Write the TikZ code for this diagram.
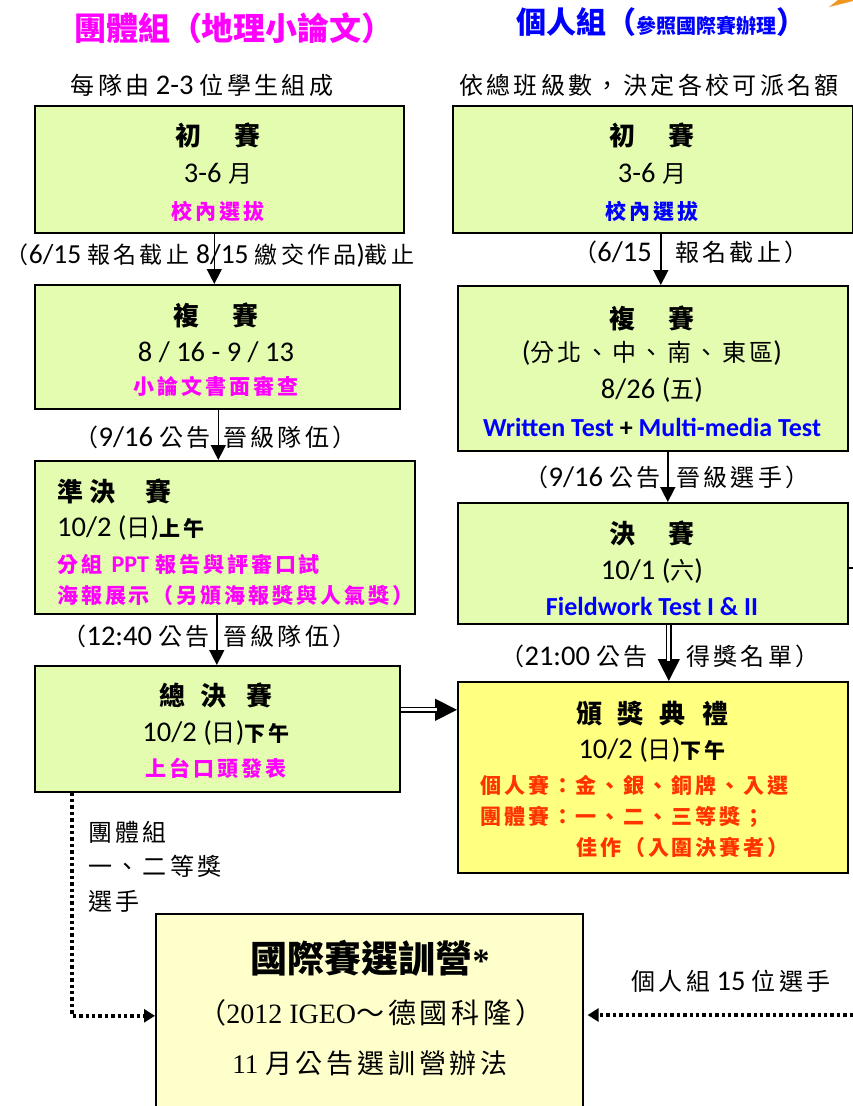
\documentclass[tikz,border=0pt]{standalone}
\usepackage{fontspec}
\usetikzlibrary{arrows.meta}
\setmainfont{Carlito}
\newfontfamily\cj{Noto Sans CJK TC}[LetterSpace=14]
\newfontfamily\cjn{Noto Sans CJK TC}
\newfontfamily\tms{Liberation Serif}
\definecolor{boxgreen}{RGB}{228,252,176}
\definecolor{awardyellow}{RGB}{255,255,128}
\definecolor{campyellow}{RGB}{255,255,204}
\definecolor{mag}{RGB}{255,0,255}
\definecolor{blu}{RGB}{0,0,255}
\definecolor{redo}{RGB}{255,51,0}
\definecolor{orng}{RGB}{240,150,30}
\newcommand\fsz[1]{\fontsize{#1}{#1}\selectfont}
\newcommand\zh[1]{{\cj\fsz{24}#1}}
\newcommand\zhs[1]{{\cj\fsz{23}#1}}
\newcommand\zhb[1]{{\cj\bfseries\fsz{21}#1}}
\newcommand\hdg[1]{{\cjn\bfseries\fsz{26}#1}}
\begin{document}
\begin{tikzpicture}[x=1pt,y=-1pt,
  gbox/.style={draw, line width=1.6pt, fill=boxgreen, inner sep=0, anchor=north west},
  ybox/.style={gbox, fill=awardyellow},
  cbox/.style={gbox, fill=campyellow},
  t/.style={inner sep=0, font=\fsz{28.5}},
  tl/.style={t, anchor=west},
  tr/.style={t, anchor=east},
  arr/.style={line width=1.5pt, -{Triangle[width=15pt,length=15pt]}},
  dblarr/.style={line width=1pt, -{Triangle[width=22pt,length=22pt]}},
  dbl/.style={double, double distance=3pt, line width=1.5pt},
  dotarr/.style={line width=3.6pt, dash pattern=on 3.4pt off 3pt, -{Triangle[width=13pt,length=11pt]}}
]
\useasboundingbox[fill=white] (0,0) rectangle (853,1106);

% headers
\node[t] (h1) at (234,28) {\color{mag}\cjn\bfseries\fsz{32}團體組（地理小論文）};
\node[tl] (h2) at (516,22) {\color{blu}\cjn\bfseries{\fsz{30}個人組（}{\fsz{20}參照國際賽辦理}{\fsz{30}）}};
\node[t] (s1) at (202,85) {\zh{每隊由} 2-3 \zh{位學生組成}};
\node[t] (s2) at (649,85) {\zh{依總班級數，決定各校可派名額}};
\fill[orng] (829,7) -- (853,1) -- (853,0) -- (838,0) -- cycle;

% left column
\node[gbox, minimum width=369, minimum height=127] (L1) at (34,105) {};
\node[t] (L1a) at (218,135) {\hdg{初\hspace{34pt}賽}};
\node[t] (L1b) at (218,174) {3-6 \zh{月}};
\node[t] (L1c) at (218,211) {\color{mag}\zhb{校內選拔}};

\node[gbox, minimum width=365, minimum height=124] (L2) at (34,284) {};
\node[t] (L2a) at (216,315) {\hdg{複\hspace{34pt}賽}};
\node[t] (L2b) at (216,352) {8 / 16 - 9 / 13};
\node[t] (L2c) at (216,386) {\color{mag}\zhb{小論文書面審查}};

\node[gbox, minimum width=380, minimum height=153] (L3) at (34,460) {};
\node[tl] (L3a) at (57,491) {\hdg{準\hspace{6pt}決\hspace{30pt}賽}};
\node[tl] (L3b) at (57,528) {10/2 (\zh{日})\zhb{上午}};
\node[tl] (L3c) at (57,564) {\color{mag}\zhb{分組} \textbf{\fsz{24}PPT} \zhb{報告與評審口試}};
\node[tl] (L3d) at (57,596) {\color{mag}\zhb{海報展示（另頒海報獎與人氣獎）}};

\node[gbox, minimum width=365, minimum height=126] (L4) at (34,665) {};
\node[t] (L4a) at (216,695) {\hdg{總\hspace{16pt}決\hspace{20pt}賽}};
\node[t] (L4b) at (216,733) {10/2 (\zh{日})\zhb{下午}};
\node[t] (L4c) at (216,768) {\color{mag}\zhb{上台口頭發表}};

% left connectors
\draw[arr] ([xshift=-5pt]L1.south) -- ([xshift=-5pt]L1.south |- L2.north);
\node[t] (L1l) at (210,255) {\fsz{27.5}\zhs{（}6/15 \zhs{報名截止}\hspace{7pt}8/15 \zhs{繳交作品}){\zhs{截止}}};
\draw[arr] ([xshift=1pt]L2.south) -- ([xshift=1pt]L2.south |- L3.north);
\node[tr] (L2l) at (211,437) {\zh{（}9/16 \zh{公告}};
\node[tl] (L2r) at (223,437) {\zh{晉級隊伍）}};
\draw[arr] ([xshift=-8pt]L3.south) -- ([xshift=-8pt]L3.south |- L4.north);
\node[tr] (L3l) at (210,636) {\zh{（}12:40 \zh{公告}};
\node[tl] (L3r) at (223,636) {\zh{晉級隊伍）}};

% right column
\node[gbox, minimum width=400, minimum height=127] (R1) at (452,105) {};
\node[t] (R1a) at (652,135) {\hdg{初\hspace{34pt}賽}};
\node[t] (R1b) at (652,174) {3-6 \zh{月}};
\node[t] (R1c) at (652,211) {\color{blu}\zhb{校內選拔}};

\node[gbox, minimum width=390, minimum height=165] (R2) at (457,285) {};
\node[t] (R2a) at (652,318) {\hdg{複\hspace{34pt}賽}};
\node[t] (R2b) at (652,353) {(\zh{分北、中、南、東區})};
\node[t] (R2c) at (652,390) {8/26 (\zh{五})};
\node[t] (R2d) at (652,427) {\fsz{26}\bfseries\color{blu}Written Test \color{black}+ \color{blu}Multi-media Test};

\node[gbox, minimum width=390, minimum height=121] (R3) at (457,502) {};
\node[t] (R3a) at (652,533) {\hdg{決\hspace{34pt}賽}};
\node[t] (R3b) at (652,571) {10/1 (\zh{六})};
\node[t] (R3c) at (652,606) {\fsz{26}\bfseries\color{blu}Fieldwork Test I \& II};

\node[ybox, minimum width=390, minimum height=191] (R4) at (457,681) {};
\node[t] (R4a) at (652,714) {\hdg{頒\hspace{16pt}獎\hspace{16pt}典\hspace{16pt}禮}};
\node[t] (R4b) at (652,750) {10/2 (\zh{日})\zhb{下午}};
\node[tl] (R4c) at (480,785) {\color{redo}\zhb{個人賽：金、銀、銅牌、入選}};
\node[tl] (R4d) at (480,817) {\color{redo}\zhb{團體賽：一、二、三等獎；}};
\node[tl] (R4e) at (576,847) {\color{redo}\zhb{佳作（入圍決賽者）}};

% right connectors
\draw[arr] ([xshift=8pt]R1.south) -- ([xshift=8pt]R1.south |- R2.north);
\node[tr] (R1l) at (652,252) {\zh{（}6/15};
\node[tl] (R1r) at (675,252) {\zh{報名截止）}};
\draw[arr] ([xshift=15pt]R2.south) -- ([xshift=15pt]R2.south |- R3.north);
\node[tr] (R2l) at (661,477) {\zh{（}9/16 \zh{公告}};
\node[tl] (R2r) at (676,477) {\zh{晉級選手）}};
\draw[dblarr] ([xshift=16pt]R3.south) -- ([xshift=16pt]R3.south |- R4.north);
\draw[dbl] ([xshift=16pt]R3.south) -- ([xshift=16pt,yshift=20pt]R3.south |- R4.north);
\node[tr] (R3l) at (648,656) {\zh{（}21:00 \zh{公告}};
\node[tl] (R3r) at (686,656) {\zh{得獎名單）}};
\coordinate (rx) at (853,568);
\draw[line width=1.6pt] (R3.east |- rx) -- (rx);

% cross connector
\draw[dblarr] ([yshift=19pt]L4.east) -- ([yshift=19pt]L4.east -| R4.west);
\draw[dbl] ([yshift=19pt]L4.east) -- ([yshift=19pt,xshift=-20pt]L4.east -| R4.west);

% camp
\node[cbox, minimum width=427, minimum height=200] (C) at (155,913) {};
\node[t] (Ca) at (370,958) {\cjn\bfseries\fsz{37}國際賽選訓營\tms\fsz{34}*};
\node[t] (Cb) at (371,1013) {\tms\fsz{28}{\cj（}2012 IGEO{\cj ～德國科隆）}};
\node[t] (Cc) at (370,1063) {\tms\fsz{27}11 {\cj 月公告選訓營辦法}};

\node[tl] (g1) at (88,832) {\zh{團體組}};
\node[tl] (g2) at (88,866) {\zh{一、二等獎}};
\node[tl] (g3) at (88,901) {\zh{選手}};
\draw[dotarr] ([xshift=38pt]L4.south west) |- ([yshift=-2pt]C.west);

\coordinate (re) at (853,1015);
\node[t] (p1) at (731,981) {\zh{個人組} 15 \zh{位選手}};
\draw[dotarr, shorten >=4pt] (re) -- (re -| C.east);
\end{tikzpicture}
\end{document}
